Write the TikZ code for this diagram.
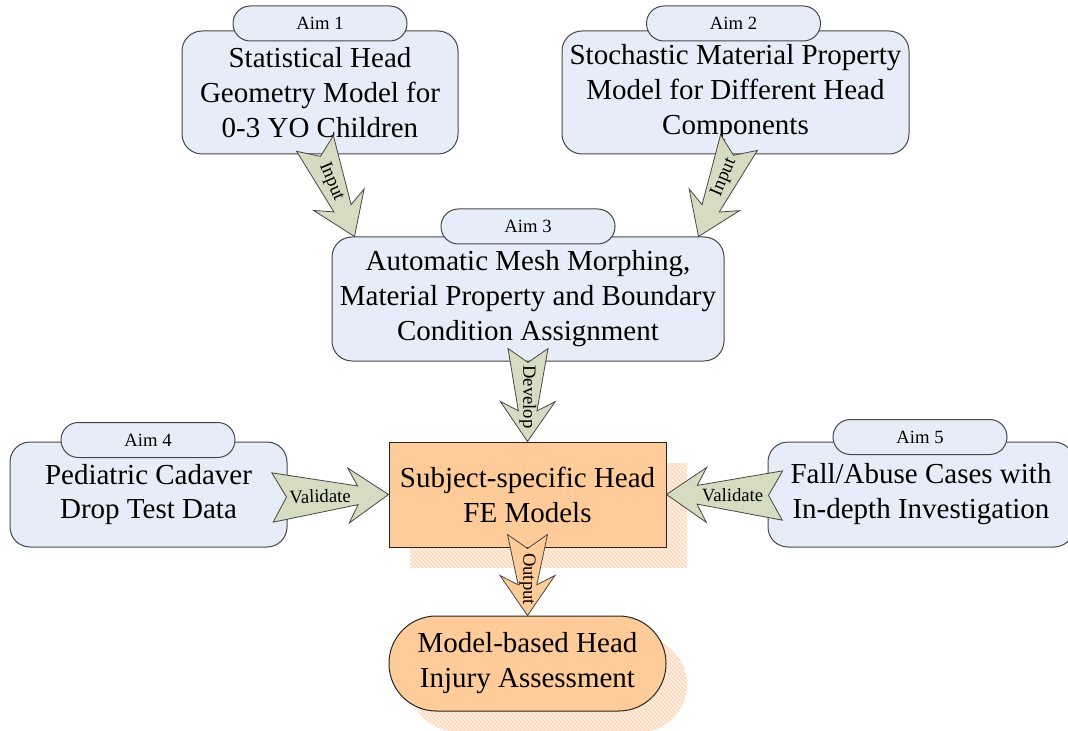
\documentclass[tikz,border=0pt]{standalone}
\usepackage{fontspec}
\setmainfont{Liberation Serif}
\usetikzlibrary{calc,patterns}
\definecolor{boxblue}{RGB}{231,237,248}
\definecolor{arrgreen}{RGB}{214,220,194}
\definecolor{orng}{RGB}{255,204,153}
\definecolor{shadeorng}{RGB}{255,220,192}
\definecolor{edgegray}{RGB}{70,70,70}
\newcommand\bxfont{\fontsize{21.75}{26.2}\selectfont}
\newcommand\smfont{\fontsize{14}{16}\selectfont}
% block arrow: #1 tail coordinate, #2 tip coordinate, #3 fill colour, #4 tail half-width
\newcommand\blockarr[4]{%
  \draw[arrowline, fill=#3]
    ($(#1)!#4!90:(#2)$)
    -- ($(#2)!23pt!(#1)!7pt!90:(#2)$)
    -- ($(#2)!30pt!(#1)!20.6pt!90:(#2)$)
    -- (#2)
    -- ($(#2)!30pt!(#1)!20.6pt!-90:(#2)$)
    -- ($(#2)!23pt!(#1)!7pt!-90:(#2)$)
    -- ($(#1)!#4!-90:(#2)$)
    -- ($(#1)!10.5pt!(#2)$)
    -- cycle;}
\begin{document}
\begin{tikzpicture}[x=0.75pt,y=-0.75pt,
  big/.style={draw=edgegray, line width=0.75pt, fill=boxblue, rounded corners=15pt,
    inner sep=0pt, align=center, font=\bxfont},
  tab/.style={draw=edgegray, line width=0.75pt, fill=boxblue, rounded corners=13pt,
    minimum width=130.5pt, minimum height=26.25pt, inner sep=0pt, font=\smfont},
  core/.style={draw=black!85, line width=0.75pt, fill=orng, inner sep=0pt,
    align=center, font=\bxfont},
  shadowfill/.style={preaction={fill=shadeorng}, pattern=north west lines, pattern color=white},
  arrowline/.style={draw=edgegray, line width=0.6pt, line join=miter},
  lbl/.style={font=\smfont, inner sep=0pt}]
\clip (0,0) rectangle (1068,731);

% shadows
\path[shadowfill] (410,463) rectangle (687,568);
\path[shadowfill, rounded corners=35.5pt] (410,637) rectangle (687,732);

% aim boxes
\node[big, minimum width=207pt, minimum height=92.25pt] (aim1) at (320,92.5)
  {Statistical Head\\Geometry Model for\\0-3 YO Children};
\node[tab] (tab1) at (320,23.5) {Aim 1};

\node[big, minimum width=260.25pt, minimum height=92.25pt] (aim2) at (735.5,92.5)
  {Stochastic Material Property\\Model for Different Head\\Components};
\node[tab] (tab2) at (733.5,23.5) {Aim 2};

\node[big, minimum width=294pt, minimum height=93pt] (aim3) at (528,299)
  {Automatic Mesh Morphing,\\Material Property and Boundary\\Condition Assignment};
\node[tab] (tab3) at (528,226.5) {Aim 3};

\node[big, minimum width=207.75pt, minimum height=78.75pt] (aim4) at (148.5,494.5)
  {Pediatric Cadaver\\Drop Test Data};
\node[tab] (tab4) at (148,440) {Aim 4};

\node[big, minimum width=229.5pt, minimum height=78.75pt] (aim5) at (921,494.5)
  {Fall/Abuse Cases with\\In-depth Investigation};
\node[tab] (tab5) at (920,437) {Aim 5};

% central and output nodes
\node[core, minimum width=207.75pt, minimum height=78.75pt] (ctr) at (527.5,494.5)
  {Subject-specific Head\\FE Models};
\node[core, rounded corners=35.5pt, minimum width=207.75pt, minimum height=71.25pt] (out) at (527.5,663.5)
  {Model-based Head\\Injury Assessment};

% arrow end points
\coordinate (i1s) at ($(aim1.south)+(-5,-11)$);
\coordinate (i1e) at ($(aim3.north west)+(23,0)$);
\coordinate (i2s) at ($(aim2.south)+(3.5,-12)$);
\coordinate (i2e) at ($(aim3.north east)+(-26,0)$);
\coordinate (dvs) at ($(aim3.south)+(0,-13)$);
\coordinate (dve) at (ctr.north);
\coordinate (v1s) at ($(aim4.east)+(-15,3)$);
\coordinate (v1e) at (ctr.west);
\coordinate (v2s) at ($(aim5.west)+(15,1)$);
\coordinate (v2e) at (ctr.east);
\coordinate (ops) at ($(ctr.south)+(0,-13)$);
\coordinate (ope) at (out.north);

% block arrows
\blockarr{i1s}{i1e}{arrgreen}{15pt}
\blockarr{i2s}{i2e}{arrgreen}{15pt}
\blockarr{dvs}{dve}{arrgreen}{15pt}
\blockarr{v1s}{v1e}{arrgreen}{18.5pt}
\blockarr{v2s}{v2e}{arrgreen}{18.5pt}
\blockarr{ops}{ope}{orng}{15pt}

% arrow labels
\path (i1s) -- (i1e) node[lbl, sloped, pos=0.41] {Input};
\path (i2s) -- (i2e) node[lbl, sloped, pos=0.37] {Input};
\path (v1s) -- (v1e) node[lbl, sloped, pos=0.41] {Validate};
\path (v2s) -- (v2e) node[lbl, sloped, pos=0.43] {Validate};
\node[lbl, rotate=-90] (dvl) at ($(dvs)!0.52!(dve)$) {Develop};
\node[lbl, rotate=-90] (opl) at ($(ops)!0.55!(ope)$) {Output};
\end{tikzpicture}
\end{document}
